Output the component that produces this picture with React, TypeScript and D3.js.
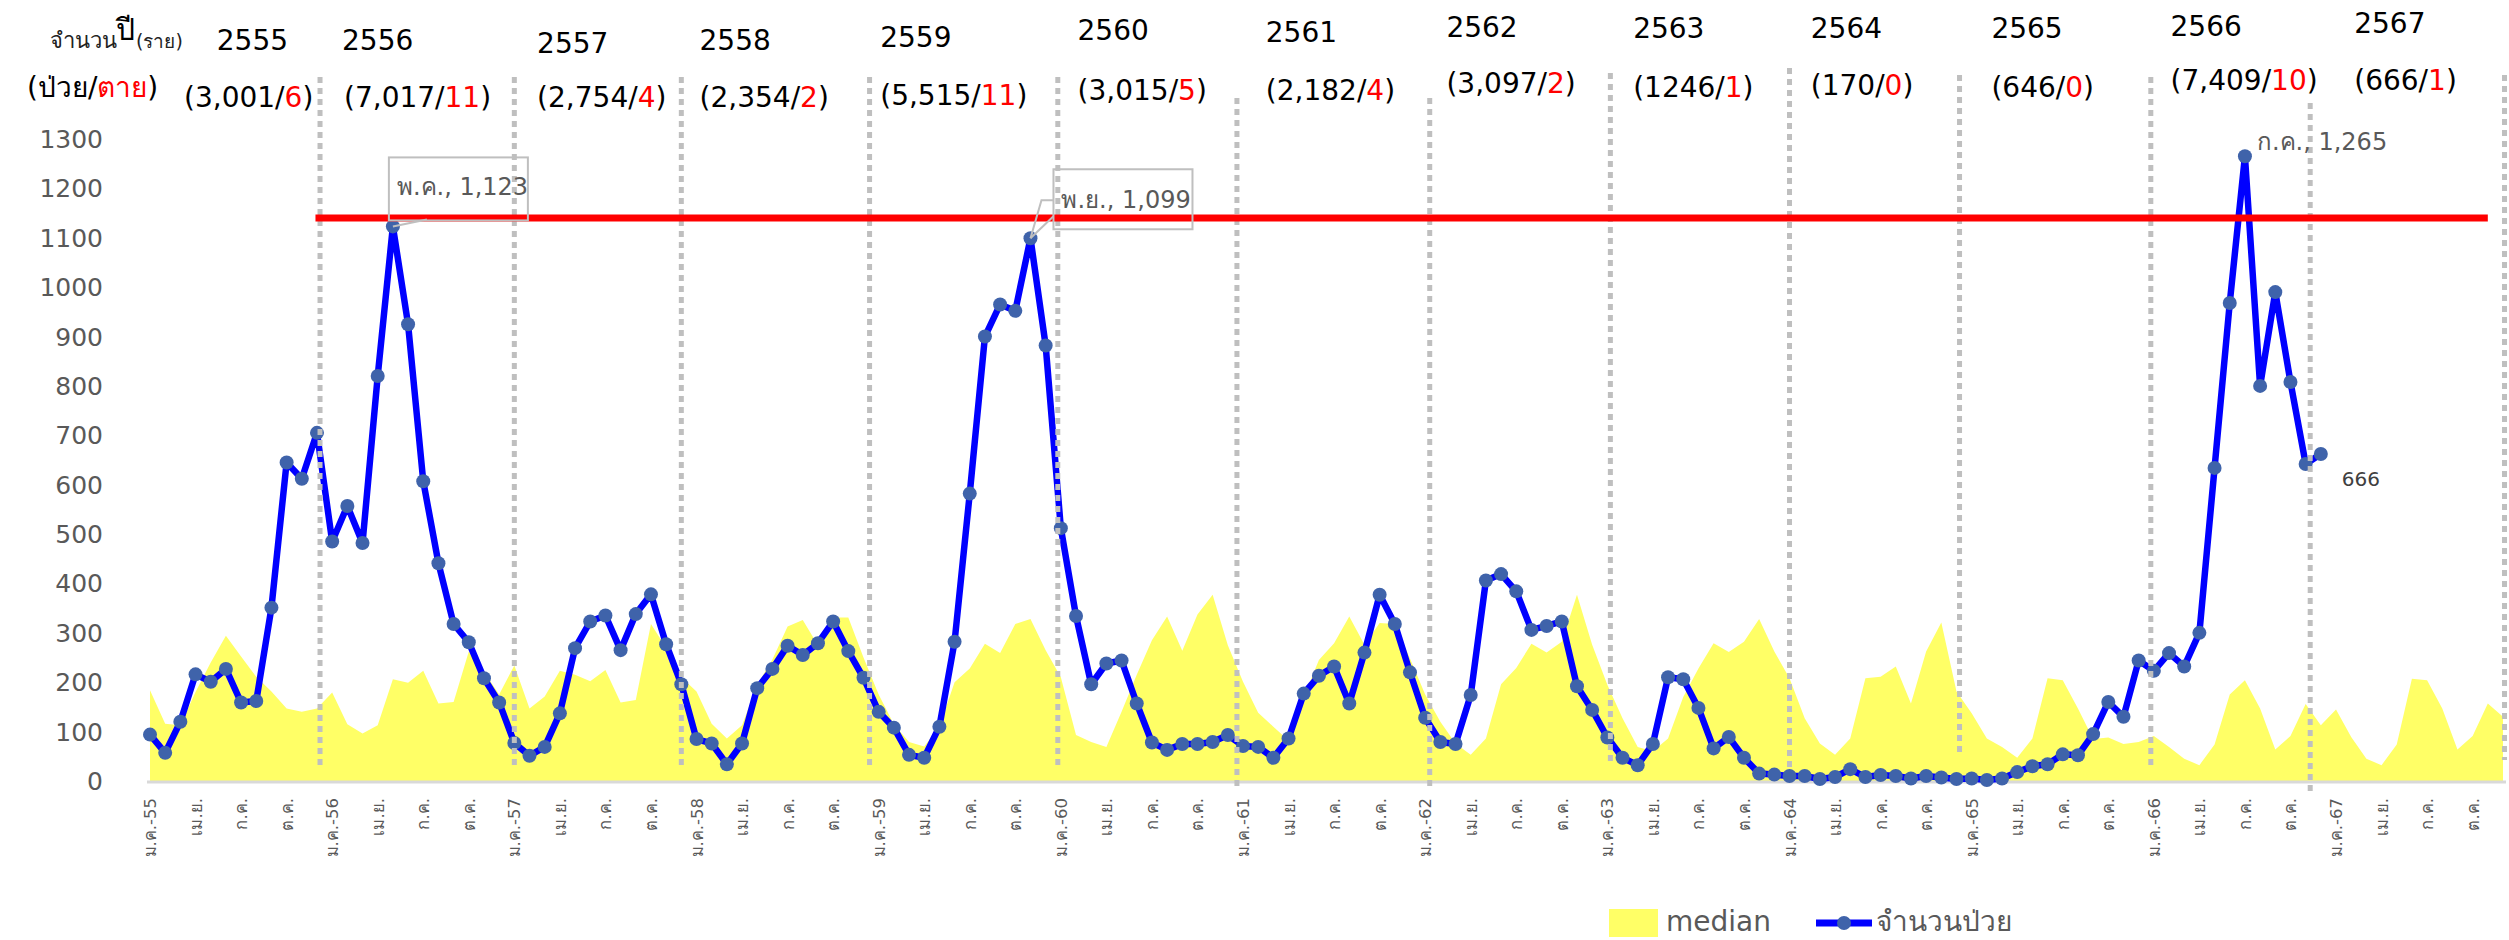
import React from 'react'
import * as d3 from 'd3'

// monthly cases, ม.ค.-55 .. ธ.ค.-66
const cases = [
  94, 57, 120, 216, 201, 227, 159, 162, 351, 645, 612, 705,
  485, 557, 482, 820, 1123, 925, 607, 441, 318, 281, 208, 159,
  77, 51, 69, 137, 269, 323, 335, 265, 338, 378, 277, 196,
  85, 76, 34, 76, 188, 227, 274, 255, 279, 323, 263, 209,
  140, 108, 53, 47, 110, 282, 582, 900, 965, 952, 1099, 882,
  512, 334, 196, 238, 244, 157, 78, 63, 75, 75, 79, 93,
  71, 69, 47, 86, 177, 213, 232, 157, 260, 377, 318, 220,
  128, 79, 75, 174, 406, 419, 384, 306, 314, 323, 192, 144,
  88, 47, 32, 75, 210, 206, 148, 66, 89, 47, 15, 13,
  10, 10, 4, 8, 24, 8, 12, 10, 5, 10, 7, 4,
  5, 2, 5, 18, 30, 34, 54, 52, 95, 160, 130, 244,
  223, 259, 232, 300, 634, 968, 1265, 800, 990, 808, 642, 662,
]

// median, ม.ค.-55 .. ธ.ค.-67
const median = [
  184, 116, 113, 180, 240, 294, 252, 211, 181, 147, 140, 147,
  179, 115, 96, 113, 206, 199, 223, 157, 160, 262, 221, 175,
  234, 147, 171, 223, 215, 202, 225, 159, 164, 318, 270, 210,
  181, 116, 86, 113, 195, 246, 313, 326, 275, 331, 331, 250,
  175, 115, 79, 70, 110, 200, 228, 278, 259, 318, 328, 265,
  210, 93, 79, 69, 140, 215, 285, 333, 264, 337, 377, 275,
  201, 138, 110, 82, 170, 245, 279, 333, 276, 320, 318, 248,
  175, 120, 76, 53, 86, 196, 229, 278, 260, 282, 377, 276,
  195, 127, 69, 60, 86, 170, 228, 279, 261, 282, 328, 262,
  208, 127, 76, 53, 86, 208, 211, 232, 157, 262, 321, 181,
  137, 86, 69, 47, 86, 208, 204, 147, 85, 88, 75, 79,
  91, 69, 45, 32, 74, 175, 204, 147, 64, 91, 156, 113,
  145, 89, 45, 32, 74, 207, 204, 147, 64, 91, 157, 130,
]

const monthNames = ['ม.ค.', 'ก.พ.', 'มี.ค.', 'เม.ย.', 'พ.ค.', 'มิ.ย.', 'ก.ค.', 'ส.ค.', 'ก.ย.', 'ต.ค.', 'พ.ย.', 'ธ.ค.']
const shortYears = ['55', '56', '57', '58', '59', '60', '61', '62', '63', '64', '65', '66', '67']
const categories = shortYears.flatMap(yy => monthNames.map((m, j) => (j === 0 ? `${m}-${yy}` : m)))

const yTicks = [0, 100, 200, 300, 400, 500, 600, 700, 800, 900, 1000, 1100, 1200, 1300]

const yearLabels = ['2555', '2556', '2557', '2558', '2559', '2560', '2561', '2562', '2563', '2564', '2565', '2566', '2567']
const yearCases = ['3,001', '7,017', '2,754', '2,354', '5,515', '3,015', '2,182', '3,097', '1246', '170', '646', '7,409', '666']
const yearDeaths = ['6', '11', '4', '2', '11', '5', '4', '2', '1', '0', '0', '10', '1']

const threshold = 1140

// layout of the header text boxes and divider lines (month units on the x scale)
const yearAt = [4.4, 12.65, 25.5, 36.2, 48.1, 61.1, 73.5, 85.4, 97.7, 109.4, 121.3, 133.1, 145.2]
const countAt = [2.24, 12.78, 25.5, 36.2, 48.1, 61.1, 73.5, 85.4, 97.7, 109.4, 121.3, 133.1, 145.2]
const yearBase = [50, 50, 53, 50, 47, 40, 42, 37, 38, 38, 38, 36, 33]
const countBase = [107, 107, 107, 107, 105, 100, 100, 93, 97, 95, 97, 90, 90]
const dividerAt = [11.2, 24.0, 35.0, 47.4, 59.8, 71.6, 84.3, 96.2, 108.0, 119.2, 131.8, 142.3, 155.1]
const dividerTop = [77, 77, 77, 77, 77, 98, 98, 73, 68, 75, 77, 103, 75]
const dividerBottom = [767, 767, 767, 767, 767, 788, 788, 763, 767, 757, 767, 792, 760]

const W = 2509
const H = 940
const FONT = "'DejaVu Sans', 'Noto Sans', sans-serif"
const GREY = '#595959'

export default function App() {
  const x = d3.scaleLinear().domain([0, categories.length - 1]).range([150, 2503])
  const y = d3.scaleLinear().domain([0, 1300]).range([781, 139])

  const area = d3.area<number>().x((_, i) => x(i)).y0(y(0)).y1(d => y(d))
  const line = d3.line<number>().x((_, i) => x(i)).y(d => y(d))

  const p1 = { x: x(16), y: y(cases[16]) }
  const p2 = { x: x(58), y: y(cases[58]) }
  const p3 = { x: x(138), y: y(cases[138]) }
  const pl = { x: x(cases.length - 1), y: y(cases[cases.length - 1]) }

  return (
    <div style={{ position: 'absolute', left: 0, top: 0 }}>
      <svg width={W} height={H} style={{ display: 'block', background: '#fff' }} fontFamily={FONT}>
        <path d={area(median) || ''} fill="#ffff66" />

        <line x1={147} x2={2506} y1={y(0) + 1} y2={y(0) + 1} stroke="#d9d9d9" strokeWidth={3} />

        {yTicks.map(t => (
          <text key={t} x={103} y={y(t)} dy="0.36em" textAnchor="end" fontSize={25} fill={GREY}>{t}</text>
        ))}

        {categories.map((c, i) => (i % 3 === 0 ? (
          <text key={i} transform={`translate(${x(i) + 6},798) rotate(-90)`} textAnchor="end" fontSize={16.5} fill={GREY}>{c}</text>
        ) : null))}

        <path d={line(cases) || ''} fill="none" stroke="#0000ff" strokeWidth={6.5} strokeLinejoin="round" />
        {cases.map((v, i) => (
          <circle key={i} cx={x(i)} cy={y(v)} r={7} fill="#3f63aa" />
        ))}

        {dividerAt.map((m, i) => (
          <line key={i} x1={x(m)} x2={x(m)} y1={dividerTop[i]} y2={dividerBottom[i]}
            stroke="#bfbfbf" strokeWidth={5} strokeDasharray="6 5" />
        ))}

        <line x1={x(10.9)} x2={x(154)} y1={y(threshold)} y2={y(threshold)} stroke="#ff0000" strokeWidth={7} />

        {/* peak callouts */}
        <rect x={p1.x - 4} y={p1.y - 69} width={139} height={63} fill="none" stroke="#bfbfbf" strokeWidth={2} />
        <line x1={p1.x} y1={p1.y} x2={p1.x + 34} y2={p1.y - 7} stroke="#bfbfbf" strokeWidth={2} />
        <text x={p1.x + 4} y={p1.y - 31} fontSize={24} fill={GREY}>พ.ค., 1,123</text>

        <rect x={p2.x + 23} y={p2.y - 69} width={139} height={60} fill="none" stroke="#bfbfbf" strokeWidth={2} />
        <polyline points={`${p2.x},${p2.y} ${p2.x + 11},${p2.y - 38} ${p2.x + 23},${p2.y - 38}`} fill="none" stroke="#bfbfbf" strokeWidth={2} />
        <line x1={p2.x} y1={p2.y} x2={p2.x + 23} y2={p2.y - 22} stroke="#bfbfbf" strokeWidth={2} />
        <text x={p2.x + 31} y={p2.y - 30} fontSize={24} fill={GREY}>พ.ย., 1,099</text>

        <text x={p3.x + 12} y={p3.y - 6} fontSize={24} fill={GREY}>ก.ค., 1,265</text>
        <text x={pl.x + 21} y={pl.y + 32} fontSize={20} fill="#404040">666</text>

        {/* header */}
        <text x={50} y={48} fontSize={22} fill="#222">จำนวน</text>
        <text x={116} y={40} fontSize={30} fill="#000">ปี</text>
        <text x={136} y={48} fontSize={19} fill="#222">(ราย)</text>
        <text x={27} y={97} fontSize={28} fill="#000">
          (ป่วย/<tspan fill="#ff0000">ตาย</tspan>)
        </text>

        {yearLabels.map((yl, i) => (
          <g key={yl}>
            <text x={x(yearAt[i])} y={yearBase[i]} fontSize={28} fill="#000">{yl}</text>
            <text x={x(countAt[i])} y={countBase[i]} fontSize={28} fill="#000">
              ({yearCases[i]}/<tspan fill="#ff0000">{yearDeaths[i]}</tspan>)
            </text>
          </g>
        ))}

        {/* legend */}
        <rect x={1609} y={909} width={49} height={28} fill="#ffff66" />
        <text x={1666} y={931} fontSize={28} fill={GREY}>median</text>
        <line x1={1816} x2={1872} y1={923} y2={923} stroke="#0000ff" strokeWidth={7} />
        <circle cx={1844} cy={923} r={7} fill="#3f63aa" />
        <text x={1876} y={931} fontSize={28} fill={GREY}>จำนวนป่วย</text>
      </svg>
    </div>
  )
}
